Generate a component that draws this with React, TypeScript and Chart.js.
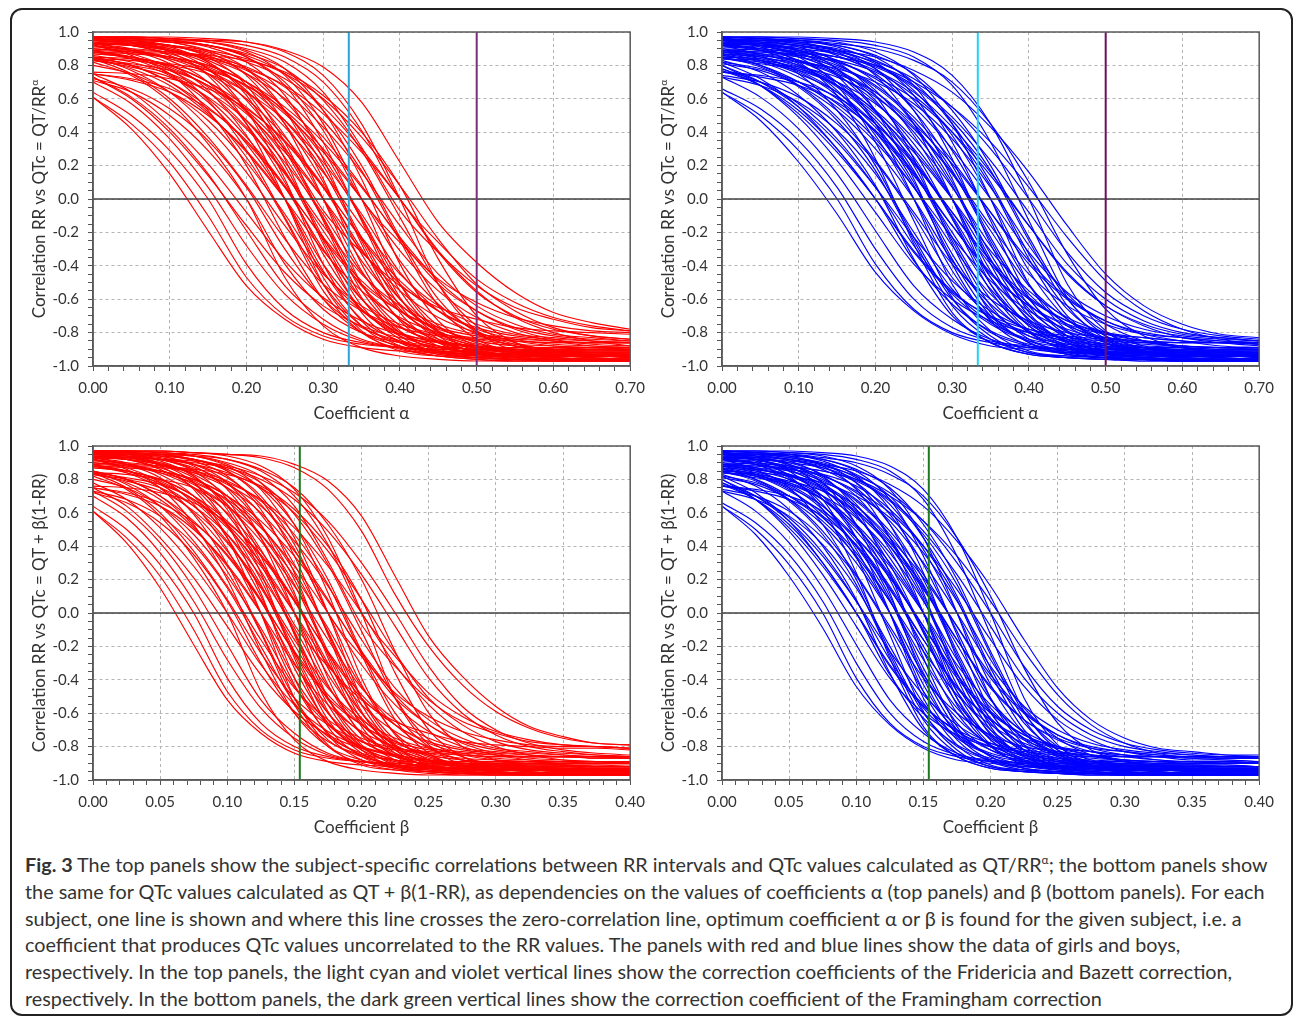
import React, { useEffect, useRef } from "react";
import { Chart, registerables } from "chart.js";

Chart.register(...registerables);

// ---------- sampled x positions of every subject line ----------
const ALPHA_X = [0, 0.05, 0.1, 0.15, 0.2, 0.25, 0.3, 0.35, 0.4, 0.45, 0.5, 0.55, 0.6, 0.65, 0.7];
const BETA_X = [0, 0.025, 0.05, 0.075, 0.1, 0.125, 0.15, 0.175, 0.2, 0.225, 0.25, 0.275, 0.3, 0.325, 0.35, 0.375, 0.4];

// ---------- correlations (x100), one row per subject ----------
const GIRLS_ALPHA = [
  [61,42,15,-19,-52,-72,-84,-89,-91,-92,-93,-93,-93,-94,-94],
  [64,50,29,0,-39,-66,-80,-86,-89,-90,-91,-91,-91,-92,-92],
  [73,61,42,15,-19,-52,-72,-84,-89,-91,-92,-93,-93,-93,-93],
  [71,64,50,29,0,-39,-66,-80,-86,-89,-90,-91,-91,-91,-91],
  [73,60,40,14,-16,-44,-64,-76,-83,-86,-88,-89,-89,-90,-90],
  [82,74,58,33,0,-47,-76,-89,-94,-96,-97,-97,-97,-97,-97],
  [92,86,75,53,20,-23,-60,-80,-88,-92,-93,-94,-94,-94,-95],
  [85,77,64,43,16,-16,-45,-64,-75,-81,-83,-85,-86,-86,-86],
  [75,71,64,50,29,0,-39,-66,-80,-86,-89,-90,-91,-91,-91],
  [96,94,88,74,45,0,-51,-79,-91,-94,-95,-96,-96,-96,-96],
  [84,78,68,51,28,0,-31,-55,-71,-80,-85,-88,-89,-89,-90],
  [94,92,86,75,53,20,-23,-60,-80,-88,-92,-93,-94,-94,-94],
  [87,85,79,67,47,17,-25,-64,-84,-92,-95,-96,-97,-97,-97],
  [83,79,73,61,42,15,-19,-52,-72,-84,-89,-91,-92,-93,-93],
  [89,85,77,64,43,16,-16,-45,-64,-75,-81,-83,-85,-86,-86],
  [97,96,94,88,74,45,0,-51,-79,-91,-94,-95,-96,-96,-96],
  [95,93,89,81,65,38,0,-43,-72,-85,-91,-93,-94,-94,-94],
  [88,84,78,68,51,28,0,-31,-55,-71,-80,-85,-88,-89,-89],
  [84,81,77,68,53,30,0,-37,-63,-79,-87,-90,-92,-92,-93],
  [88,87,85,79,67,47,17,-25,-64,-84,-92,-95,-96,-97,-97],
  [97,96,95,91,82,62,24,-27,-68,-86,-93,-95,-96,-96,-96],
  [92,89,85,77,64,43,16,-16,-45,-64,-75,-81,-83,-85,-86],
  [95,94,92,86,75,53,20,-23,-60,-80,-88,-92,-93,-94,-94],
  [85,84,81,77,68,53,30,0,-37,-63,-79,-87,-90,-92,-92],
  [97,97,96,94,88,74,45,0,-51,-79,-91,-94,-95,-96,-96],
  [90,88,84,78,68,51,28,0,-31,-55,-71,-80,-85,-88,-89],
  [96,95,94,92,86,75,53,20,-23,-60,-80,-88,-92,-93,-94],
  [89,88,87,85,79,67,47,17,-25,-64,-84,-92,-95,-96,-97],
  [93,92,89,85,77,64,43,16,-16,-45,-64,-75,-81,-83,-85],
  [97,97,96,95,92,85,70,41,0,-26,-48,-62,-71,-76,-79],
  [97,97,97,96,94,88,74,45,0,-51,-79,-91,-94,-95,-96],
  [97,97,96,95,94,89,79,58,22,-14,-38,-56,-68,-74,-78],
  [93,89,81,65,38,0,-43,-72,-85,-91,-93,-94,-94,-94,-95],
  [86,82,74,58,33,0,-47,-76,-89,-94,-96,-97,-97,-97,-97],
  [96,95,91,82,62,24,-27,-68,-86,-93,-95,-96,-96,-96,-96],
  [97,96,95,92,85,70,41,0,-26,-48,-62,-71,-76,-79,-80],
  [93,92,91,88,82,72,55,30,0,-32,-56,-70,-78,-82,-84],
  [91,90,88,84,78,68,51,28,0,-31,-55,-71,-80,-85,-88],
  [61,45,22,-10,-47,-70,-82,-87,-89,-90,-91,-91,-91,-92,-92],
  [70,57,36,7,-28,-57,-75,-85,-89,-91,-92,-93,-93,-93,-93],
  [75,64,45,21,-8,-37,-59,-73,-81,-85,-88,-89,-89,-90,-90],
  [84,75,60,37,8,-24,-51,-67,-77,-82,-84,-85,-86,-86,-86],
  [72,66,54,35,7,-30,-60,-77,-85,-88,-90,-90,-91,-91,-91],
  [92,87,78,59,29,-11,-51,-76,-86,-91,-93,-94,-94,-94,-95],
  [80,75,64,47,22,-9,-44,-67,-81,-88,-90,-92,-92,-93,-93],
  [85,80,70,52,25,-12,-55,-80,-90,-94,-96,-97,-97,-97,-97],
  [96,94,89,78,53,12,-39,-73,-88,-93,-95,-96,-96,-96,-96],
  [85,80,70,55,34,7,-23,-49,-67,-78,-84,-87,-88,-89,-90],
  [89,84,75,60,37,8,-24,-51,-67,-77,-82,-84,-85,-86,-86],
  [75,72,66,54,35,7,-30,-60,-77,-85,-88,-90,-90,-91,-91],
  [94,92,87,78,59,29,-11,-51,-76,-86,-91,-93,-94,-94,-94],
  [87,85,80,70,52,25,-12,-55,-80,-90,-94,-96,-97,-97,-97],
  [83,80,75,64,47,22,-9,-44,-67,-81,-88,-90,-92,-92,-93],
  [95,94,90,82,64,31,-7,-32,-52,-65,-72,-77,-79,-80,-81],
  [97,96,94,89,78,53,12,-39,-73,-88,-93,-95,-96,-96,-96],
  [95,93,90,83,70,45,10,-33,-66,-82,-89,-92,-93,-94,-94],
  [92,89,84,75,60,37,8,-24,-51,-67,-77,-82,-84,-85,-86],
  [88,85,80,70,55,34,7,-23,-49,-67,-78,-84,-87,-88,-89],
  [88,87,85,80,70,52,25,-12,-55,-80,-90,-94,-96,-97,-97],
  [97,96,95,92,85,68,34,-13,-59,-82,-92,-94,-95,-96,-96],
  [84,83,80,75,64,47,22,-9,-44,-67,-81,-88,-90,-92,-92],
  [95,94,92,87,78,59,29,-11,-51,-76,-86,-91,-93,-94,-94],
  [93,92,89,84,75,60,37,8,-24,-51,-67,-77,-82,-84,-85],
  [97,97,96,94,89,78,53,12,-39,-73,-88,-93,-95,-96,-96],
  [90,88,85,80,70,55,34,7,-23,-49,-67,-78,-84,-87,-88],
  [96,95,94,92,87,78,59,29,-11,-51,-76,-86,-91,-93,-94],
  [97,96,95,94,90,82,64,31,-7,-32,-52,-65,-72,-77,-79],
  [93,93,92,89,84,75,60,37,8,-24,-51,-67,-77,-82,-84],
  [90,89,88,86,83,76,62,40,8,-36,-70,-86,-93,-95,-96],
  [76,75,72,66,54,35,7,-30,-60,-77,-85,-88,-90,-90,-91],
  [96,95,92,85,68,34,-13,-59,-82,-92,-94,-95,-96,-96,-96],
  [93,90,83,70,45,10,-33,-66,-82,-89,-92,-93,-94,-94,-94],
];

const BOYS_ALPHA = [
  [64,50,29,0,-39,-66,-80,-86,-89,-90,-91,-91,-91,-92,-92],
  [73,61,42,15,-19,-52,-72,-84,-89,-91,-92,-93,-93,-93,-93],
  [78,68,51,28,0,-31,-55,-71,-80,-85,-88,-89,-89,-90,-90],
  [73,68,58,41,15,-20,-54,-74,-84,-88,-90,-90,-91,-91,-91],
  [82,72,55,30,0,-32,-56,-70,-78,-82,-84,-85,-86,-86,-86],
  [92,86,75,53,20,-23,-60,-80,-88,-92,-93,-94,-94,-94,-95],
  [85,79,67,47,17,-25,-64,-84,-92,-95,-96,-97,-97,-97,-97],
  [81,77,68,53,30,0,-37,-63,-79,-87,-90,-92,-92,-93,-93],
  [96,94,88,74,45,0,-51,-79,-91,-94,-95,-96,-96,-96,-96],
  [93,89,81,65,38,0,-43,-72,-85,-91,-93,-94,-94,-94,-95],
  [86,82,73,60,40,14,-16,-44,-64,-76,-83,-86,-88,-89,-89],
  [76,73,68,58,41,15,-20,-54,-74,-84,-88,-90,-90,-91,-91],
  [96,95,91,82,62,24,-27,-68,-86,-93,-95,-96,-96,-96,-96],
  [89,85,77,64,43,16,-16,-45,-64,-75,-81,-83,-85,-86,-86],
  [95,93,89,81,65,38,0,-43,-72,-85,-91,-93,-94,-94,-94],
  [88,86,82,74,58,33,0,-47,-76,-89,-94,-96,-97,-97,-97],
  [84,81,77,68,53,30,0,-37,-63,-79,-87,-90,-92,-92,-93],
  [97,96,94,88,74,45,0,-51,-79,-91,-94,-95,-96,-96,-96],
  [88,84,78,68,51,28,0,-31,-55,-71,-80,-85,-88,-89,-89],
  [95,94,92,86,75,53,20,-23,-60,-80,-88,-92,-93,-94,-94],
  [92,89,85,77,64,43,16,-16,-45,-64,-75,-81,-83,-85,-86],
  [97,96,95,91,82,62,24,-27,-68,-86,-93,-95,-96,-96,-96],
  [88,87,85,79,67,47,17,-25,-64,-84,-92,-95,-96,-97,-97],
  [84,83,79,73,61,42,15,-19,-52,-72,-84,-89,-91,-92,-93],
  [95,95,93,89,81,65,38,0,-43,-72,-85,-91,-93,-94,-94],
  [97,97,96,94,88,74,45,0,-51,-79,-91,-94,-95,-96,-96],
  [92,91,88,82,72,55,30,0,-32,-56,-70,-78,-82,-84,-85],
  [90,89,86,82,73,60,40,14,-16,-44,-64,-76,-83,-86,-88],
  [96,95,94,92,86,75,53,20,-23,-60,-80,-88,-92,-93,-94],
  [89,88,87,85,79,67,47,17,-25,-64,-84,-92,-95,-96,-97],
  [97,97,97,96,94,88,74,45,0,-51,-79,-91,-94,-95,-96],
  [93,92,91,88,82,72,55,30,0,-32,-56,-70,-78,-82,-84],
  [93,93,92,89,85,77,64,43,16,-16,-45,-64,-75,-81,-83],
  [94,92,86,75,53,20,-23,-60,-80,-88,-92,-93,-94,-94,-94],
  [87,85,79,67,47,17,-25,-64,-84,-92,-95,-96,-97,-97,-97],
  [93,92,89,85,77,64,43,16,-16,-45,-64,-75,-81,-83,-85],
  [77,68,53,30,0,-37,-63,-79,-87,-90,-92,-92,-93,-93,-93],
  [95,91,82,62,24,-27,-68,-86,-93,-95,-96,-96,-96,-96,-96],
  [64,47,22,-9,-44,-67,-81,-88,-90,-92,-92,-93,-93,-93,-94],
  [66,54,35,7,-30,-60,-77,-85,-88,-90,-90,-91,-91,-91,-92],
  [80,68,49,23,-8,-39,-60,-73,-80,-83,-85,-86,-86,-86,-87],
  [80,70,55,34,7,-23,-49,-67,-78,-84,-87,-88,-89,-90,-90],
  [83,76,62,40,8,-36,-70,-86,-93,-95,-96,-97,-97,-97,-97],
  [95,92,85,68,34,-13,-59,-82,-92,-94,-95,-96,-96,-96,-96],
  [74,70,61,45,22,-10,-47,-70,-82,-87,-89,-90,-91,-91,-91],
  [87,80,68,49,23,-8,-39,-60,-73,-80,-83,-85,-86,-86,-86],
  [93,90,83,70,45,10,-33,-66,-82,-89,-92,-93,-94,-94,-94],
  [82,78,70,57,36,7,-28,-57,-75,-85,-89,-91,-92,-93,-93],
  [86,83,76,62,40,8,-36,-70,-86,-93,-95,-96,-97,-97,-97],
  [96,94,89,78,53,12,-39,-73,-88,-93,-95,-96,-96,-96,-96],
  [87,83,75,64,45,21,-8,-37,-59,-73,-81,-85,-88,-89,-89],
  [90,87,80,68,49,23,-8,-39,-60,-73,-80,-83,-85,-86,-86],
  [94,92,87,78,59,29,-11,-51,-76,-86,-91,-93,-94,-94,-94],
  [76,74,70,61,45,22,-10,-47,-70,-82,-87,-89,-90,-91,-91],
  [97,96,94,89,78,53,12,-39,-73,-88,-93,-95,-96,-96,-96],
  [84,82,78,70,57,36,7,-28,-57,-75,-85,-89,-91,-92,-93],
  [88,86,83,76,62,40,8,-36,-70,-86,-93,-95,-96,-97,-97],
  [95,93,90,83,70,45,10,-33,-66,-82,-89,-92,-93,-94,-94],
  [89,87,83,75,64,45,21,-8,-37,-59,-73,-81,-85,-88,-89],
  [92,90,87,80,68,49,23,-8,-39,-60,-73,-80,-83,-85,-86],
  [97,96,95,92,85,68,34,-13,-59,-82,-92,-94,-95,-96,-96],
  [95,94,92,87,78,59,29,-11,-51,-76,-86,-91,-93,-94,-94],
  [89,88,86,83,76,62,40,8,-36,-70,-86,-93,-95,-96,-97],
  [85,84,82,78,70,57,36,7,-28,-57,-75,-85,-89,-91,-92],
  [95,95,93,90,83,70,45,10,-33,-66,-82,-89,-92,-93,-94],
  [97,97,96,95,92,85,68,34,-13,-59,-82,-92,-94,-95,-96],
  [93,92,90,87,80,68,49,23,-8,-39,-60,-73,-80,-83,-85],
  [91,90,88,85,80,70,55,34,7,-23,-49,-67,-78,-84,-87],
  [96,95,95,93,90,83,70,45,10,-33,-66,-82,-89,-92,-93],
  [85,80,70,55,34,7,-23,-49,-67,-78,-84,-87,-88,-89,-90],
  [87,85,80,70,52,25,-12,-55,-80,-90,-94,-96,-97,-97,-97],
  [78,70,57,36,7,-28,-57,-75,-85,-89,-91,-92,-93,-93,-93],
];

const GIRLS_BETA = [
  [61,42,15,-19,-52,-72,-84,-89,-91,-92,-93,-93,-93,-94,-94,-94,-94],
  [64,50,29,0,-39,-66,-80,-86,-89,-90,-91,-91,-91,-92,-92,-92,-92],
  [73,61,42,15,-19,-52,-72,-84,-89,-91,-92,-93,-93,-93,-93,-94,-94],
  [78,68,51,28,0,-31,-55,-71,-80,-85,-88,-89,-89,-90,-90,-90,-90],
  [73,68,58,41,15,-20,-54,-74,-84,-88,-90,-90,-91,-91,-91,-92,-92],
  [82,74,58,33,0,-47,-76,-89,-94,-96,-97,-97,-97,-97,-97,-97,-97],
  [92,86,75,53,20,-23,-60,-80,-88,-92,-93,-94,-94,-94,-95,-95,-95],
  [85,77,64,43,16,-16,-45,-64,-75,-81,-83,-85,-86,-86,-86,-87,-87],
  [75,71,64,50,29,0,-39,-66,-80,-86,-89,-90,-91,-91,-91,-92,-92],
  [96,94,88,74,45,0,-51,-79,-91,-94,-95,-96,-96,-96,-96,-96,-97],
  [84,78,68,51,28,0,-31,-55,-71,-80,-85,-88,-89,-89,-90,-90,-90],
  [94,92,86,75,53,20,-23,-60,-80,-88,-92,-93,-94,-94,-94,-95,-95],
  [87,85,79,67,47,17,-25,-64,-84,-92,-95,-96,-97,-97,-97,-97,-97],
  [83,79,73,61,42,15,-19,-52,-72,-84,-89,-91,-92,-93,-93,-93,-94],
  [89,85,77,64,43,16,-16,-45,-64,-75,-81,-83,-85,-86,-86,-86,-87],
  [97,96,94,88,74,45,0,-51,-79,-91,-94,-95,-96,-96,-96,-96,-97],
  [95,93,89,81,65,38,0,-43,-72,-85,-91,-93,-94,-94,-94,-95,-95],
  [88,84,78,68,51,28,0,-31,-55,-71,-80,-85,-88,-89,-89,-89,-90],
  [84,81,77,68,53,30,0,-37,-63,-79,-87,-90,-92,-92,-93,-93,-93],
  [88,87,85,79,67,47,17,-25,-64,-84,-92,-95,-96,-97,-97,-97,-97],
  [97,96,95,91,82,62,24,-27,-68,-86,-93,-95,-96,-96,-96,-96,-96],
  [92,89,85,77,64,43,16,-16,-45,-64,-75,-81,-83,-85,-86,-86,-86],
  [95,94,92,86,75,53,20,-23,-60,-80,-88,-92,-93,-94,-94,-94,-95],
  [95,95,93,89,81,65,38,0,-43,-72,-85,-91,-93,-94,-94,-94,-94],
  [97,97,96,94,88,74,45,0,-51,-79,-91,-94,-95,-96,-96,-96,-96],
  [90,88,84,78,68,51,28,0,-31,-55,-71,-80,-85,-88,-89,-89,-89],
  [96,95,94,92,86,75,53,20,-23,-60,-80,-88,-92,-93,-94,-94,-94],
  [89,88,87,85,79,67,47,17,-25,-64,-84,-92,-95,-96,-97,-97,-97],
  [93,92,89,85,77,64,43,16,-16,-45,-64,-75,-81,-83,-85,-86,-86],
  [97,97,96,95,92,85,70,41,0,-26,-48,-62,-71,-76,-79,-80,-81],
  [97,97,97,96,94,88,74,45,0,-51,-79,-91,-94,-95,-96,-96,-96],
  [91,90,88,84,78,68,51,28,0,-31,-55,-71,-80,-85,-88,-89,-89],
  [97,97,97,96,95,94,89,79,58,22,-14,-38,-56,-68,-74,-78,-79],
  [94,93,92,91,88,82,72,55,30,0,-32,-56,-70,-78,-82,-84,-85],
  [96,96,95,94,92,86,75,53,20,-23,-60,-80,-88,-92,-93,-94,-94],
  [96,95,91,82,62,24,-27,-68,-86,-93,-95,-96,-96,-96,-96,-96,-96],
  [93,89,81,65,38,0,-43,-72,-85,-91,-93,-94,-94,-94,-95,-95,-95],
  [97,96,95,92,85,70,41,0,-26,-48,-62,-71,-76,-79,-80,-80,-81],
  [61,45,22,-10,-47,-70,-82,-87,-89,-90,-91,-91,-91,-92,-92,-92,-92],
  [70,57,36,7,-28,-57,-75,-85,-89,-91,-92,-93,-93,-93,-93,-94,-94],
  [75,64,45,21,-8,-37,-59,-73,-81,-85,-88,-89,-89,-90,-90,-90,-90],
  [84,75,60,37,8,-24,-51,-67,-77,-82,-84,-85,-86,-86,-86,-87,-87],
  [72,66,54,35,7,-30,-60,-77,-85,-88,-90,-90,-91,-91,-91,-92,-92],
  [92,87,78,59,29,-11,-51,-76,-86,-91,-93,-94,-94,-94,-95,-95,-95],
  [80,75,64,47,22,-9,-44,-67,-81,-88,-90,-92,-92,-93,-93,-93,-94],
  [85,80,70,52,25,-12,-55,-80,-90,-94,-96,-97,-97,-97,-97,-97,-97],
  [96,94,89,78,53,12,-39,-73,-88,-93,-95,-96,-96,-96,-96,-96,-97],
  [85,80,70,55,34,7,-23,-49,-67,-78,-84,-87,-88,-89,-90,-90,-90],
  [89,84,75,60,37,8,-24,-51,-67,-77,-82,-84,-85,-86,-86,-86,-87],
  [75,72,66,54,35,7,-30,-60,-77,-85,-88,-90,-90,-91,-91,-91,-92],
  [94,92,87,78,59,29,-11,-51,-76,-86,-91,-93,-94,-94,-94,-95,-95],
  [87,85,80,70,52,25,-12,-55,-80,-90,-94,-96,-97,-97,-97,-97,-97],
  [83,80,75,64,47,22,-9,-44,-67,-81,-88,-90,-92,-92,-93,-93,-93],
  [95,94,90,82,64,31,-7,-32,-52,-65,-72,-77,-79,-80,-81,-81,-82],
  [97,96,94,89,78,53,12,-39,-73,-88,-93,-95,-96,-96,-96,-96,-96],
  [95,93,90,83,70,45,10,-33,-66,-82,-89,-92,-93,-94,-94,-94,-95],
  [92,89,84,75,60,37,8,-24,-51,-67,-77,-82,-84,-85,-86,-86,-86],
  [88,85,80,70,55,34,7,-23,-49,-67,-78,-84,-87,-88,-89,-90,-90],
  [88,87,85,80,70,52,25,-12,-55,-80,-90,-94,-96,-97,-97,-97,-97],
  [97,96,95,92,85,68,34,-13,-59,-82,-92,-94,-95,-96,-96,-96,-96],
  [84,83,80,75,64,47,22,-9,-44,-67,-81,-88,-90,-92,-92,-93,-93],
  [95,94,92,87,78,59,29,-11,-51,-76,-86,-91,-93,-94,-94,-94,-95],
  [93,92,89,84,75,60,37,8,-24,-51,-67,-77,-82,-84,-85,-86,-86],
  [97,97,96,94,89,78,53,12,-39,-73,-88,-93,-95,-96,-96,-96,-96],
  [90,88,85,80,70,55,34,7,-23,-49,-67,-78,-84,-87,-88,-89,-90],
  [96,95,94,92,87,78,59,29,-11,-51,-76,-86,-91,-93,-94,-94,-94],
  [97,96,95,94,90,82,64,31,-7,-32,-52,-65,-72,-77,-79,-80,-81],
  [93,93,92,89,84,75,60,37,8,-24,-51,-67,-77,-82,-84,-85,-86],
  [90,89,88,86,83,76,62,40,8,-36,-70,-86,-93,-95,-96,-97,-97],
  [76,75,72,66,54,35,7,-30,-60,-77,-85,-88,-90,-90,-91,-91,-91],
  [96,95,92,85,68,34,-13,-59,-82,-92,-94,-95,-96,-96,-96,-96,-97],
  [93,90,83,70,45,10,-33,-66,-82,-89,-92,-93,-94,-94,-94,-95,-95],
  [97,97,97,96,95,93,87,74,49,11,-20,-43,-59,-69,-75,-78,-79],
  [94,93,92,90,87,80,68,49,23,-8,-39,-60,-73,-80,-83,-85,-86],
];

const BOYS_BETA = [
  [64,50,29,0,-39,-66,-80,-86,-89,-90,-91,-91,-91,-92,-92,-92,-92],
  [73,61,42,15,-19,-52,-72,-84,-89,-91,-92,-93,-93,-93,-93,-94,-94],
  [78,68,51,28,0,-31,-55,-71,-80,-85,-88,-89,-89,-90,-90,-90,-90],
  [73,68,58,41,15,-20,-54,-74,-84,-88,-90,-90,-91,-91,-91,-92,-92],
  [82,72,55,30,0,-32,-56,-70,-78,-82,-84,-85,-86,-86,-86,-87,-87],
  [92,86,75,53,20,-23,-60,-80,-88,-92,-93,-94,-94,-94,-95,-95,-95],
  [85,79,67,47,17,-25,-64,-84,-92,-95,-96,-97,-97,-97,-97,-97,-97],
  [81,77,68,53,30,0,-37,-63,-79,-87,-90,-92,-92,-93,-93,-93,-94],
  [96,94,88,74,45,0,-51,-79,-91,-94,-95,-96,-96,-96,-96,-96,-97],
  [93,89,81,65,38,0,-43,-72,-85,-91,-93,-94,-94,-94,-95,-95,-95],
  [86,82,73,60,40,14,-16,-44,-64,-76,-83,-86,-88,-89,-89,-90,-90],
  [76,73,68,58,41,15,-20,-54,-74,-84,-88,-90,-90,-91,-91,-91,-92],
  [96,95,91,82,62,24,-27,-68,-86,-93,-95,-96,-96,-96,-96,-96,-96],
  [89,85,77,64,43,16,-16,-45,-64,-75,-81,-83,-85,-86,-86,-86,-87],
  [95,93,89,81,65,38,0,-43,-72,-85,-91,-93,-94,-94,-94,-95,-95],
  [88,86,82,74,58,33,0,-47,-76,-89,-94,-96,-97,-97,-97,-97,-97],
  [84,81,77,68,53,30,0,-37,-63,-79,-87,-90,-92,-92,-93,-93,-93],
  [97,96,94,88,74,45,0,-51,-79,-91,-94,-95,-96,-96,-96,-96,-96],
  [88,84,78,68,51,28,0,-31,-55,-71,-80,-85,-88,-89,-89,-89,-90],
  [95,94,92,86,75,53,20,-23,-60,-80,-88,-92,-93,-94,-94,-94,-95],
  [92,89,85,77,64,43,16,-16,-45,-64,-75,-81,-83,-85,-86,-86,-86],
  [97,96,95,91,82,62,24,-27,-68,-86,-93,-95,-96,-96,-96,-96,-96],
  [88,87,85,79,67,47,17,-25,-64,-84,-92,-95,-96,-97,-97,-97,-97],
  [84,83,79,73,61,42,15,-19,-52,-72,-84,-89,-91,-92,-93,-93,-93],
  [95,95,93,89,81,65,38,0,-43,-72,-85,-91,-93,-94,-94,-94,-94],
  [97,97,96,94,88,74,45,0,-51,-79,-91,-94,-95,-96,-96,-96,-96],
  [92,91,88,82,72,55,30,0,-32,-56,-70,-78,-82,-84,-85,-86,-86],
  [90,89,86,82,73,60,40,14,-16,-44,-64,-76,-83,-86,-88,-88,-89],
  [96,95,94,92,86,75,53,20,-23,-60,-80,-88,-92,-93,-94,-94,-94],
  [89,88,87,85,79,67,47,17,-25,-64,-84,-92,-95,-96,-97,-97,-97],
  [97,97,97,96,94,88,74,45,0,-51,-79,-91,-94,-95,-96,-96,-96],
  [93,92,91,88,82,72,55,30,0,-32,-56,-70,-78,-82,-84,-85,-85],
  [93,93,92,89,85,77,64,43,16,-16,-45,-64,-75,-81,-83,-85,-86],
  [94,92,86,75,53,20,-23,-60,-80,-88,-92,-93,-94,-94,-94,-95,-95],
  [86,82,74,58,33,0,-47,-76,-89,-94,-96,-97,-97,-97,-97,-97,-97],
  [89,86,82,73,60,40,14,-16,-44,-64,-76,-83,-86,-88,-89,-89,-90],
  [77,68,53,30,0,-37,-63,-79,-87,-90,-92,-92,-93,-93,-93,-93,-93],
  [95,91,82,62,24,-27,-68,-86,-93,-95,-96,-96,-96,-96,-96,-96,-96],
  [64,47,22,-9,-44,-67,-81,-88,-90,-92,-92,-93,-93,-93,-94,-94,-94],
  [66,54,35,7,-30,-60,-77,-85,-88,-90,-90,-91,-91,-91,-92,-92,-92],
  [80,68,49,23,-8,-39,-60,-73,-80,-83,-85,-86,-86,-86,-87,-87,-87],
  [80,70,55,34,7,-23,-49,-67,-78,-84,-87,-88,-89,-90,-90,-90,-90],
  [83,76,62,40,8,-36,-70,-86,-93,-95,-96,-97,-97,-97,-97,-97,-97],
  [95,92,85,68,34,-13,-59,-82,-92,-94,-95,-96,-96,-96,-96,-97,-97],
  [74,70,61,45,22,-10,-47,-70,-82,-87,-89,-90,-91,-91,-91,-92,-92],
  [87,80,68,49,23,-8,-39,-60,-73,-80,-83,-85,-86,-86,-86,-87,-87],
  [93,90,83,70,45,10,-33,-66,-82,-89,-92,-93,-94,-94,-94,-95,-95],
  [82,78,70,57,36,7,-28,-57,-75,-85,-89,-91,-92,-93,-93,-93,-93],
  [86,83,76,62,40,8,-36,-70,-86,-93,-95,-96,-97,-97,-97,-97,-97],
  [96,94,89,78,53,12,-39,-73,-88,-93,-95,-96,-96,-96,-96,-96,-97],
  [87,83,75,64,45,21,-8,-37,-59,-73,-81,-85,-88,-89,-89,-90,-90],
  [90,87,80,68,49,23,-8,-39,-60,-73,-80,-83,-85,-86,-86,-86,-87],
  [94,92,87,78,59,29,-11,-51,-76,-86,-91,-93,-94,-94,-94,-95,-95],
  [76,74,70,61,45,22,-10,-47,-70,-82,-87,-89,-90,-91,-91,-91,-92],
  [97,96,94,89,78,53,12,-39,-73,-88,-93,-95,-96,-96,-96,-96,-96],
  [84,82,78,70,57,36,7,-28,-57,-75,-85,-89,-91,-92,-93,-93,-93],
  [88,86,83,76,62,40,8,-36,-70,-86,-93,-95,-96,-97,-97,-97,-97],
  [95,93,90,83,70,45,10,-33,-66,-82,-89,-92,-93,-94,-94,-94,-95],
  [89,87,83,75,64,45,21,-8,-37,-59,-73,-81,-85,-88,-89,-89,-90],
  [92,90,87,80,68,49,23,-8,-39,-60,-73,-80,-83,-85,-86,-86,-86],
  [97,96,95,92,85,68,34,-13,-59,-82,-92,-94,-95,-96,-96,-96,-96],
  [95,94,92,87,78,59,29,-11,-51,-76,-86,-91,-93,-94,-94,-94,-95],
  [89,88,86,83,76,62,40,8,-36,-70,-86,-93,-95,-96,-97,-97,-97],
  [85,84,82,78,70,57,36,7,-28,-57,-75,-85,-89,-91,-92,-93,-93],
  [95,95,93,90,83,70,45,10,-33,-66,-82,-89,-92,-93,-94,-94,-94],
  [97,97,96,95,92,85,68,34,-13,-59,-82,-92,-94,-95,-96,-96,-96],
  [93,92,90,87,80,68,49,23,-8,-39,-60,-73,-80,-83,-85,-86,-86],
  [91,90,88,85,80,70,55,34,7,-23,-49,-67,-78,-84,-87,-88,-89],
  [96,95,95,93,90,83,70,45,10,-33,-66,-82,-89,-92,-93,-94,-94],
  [85,80,70,55,34,7,-23,-49,-67,-78,-84,-87,-88,-89,-90,-90,-90],
  [87,85,80,70,52,25,-12,-55,-80,-90,-94,-96,-97,-97,-97,-97,-97],
  [78,70,57,36,7,-28,-57,-75,-85,-89,-91,-92,-93,-93,-93,-94,-94],
];

// ---------- axis tick labels ----------
const Y_MAJOR = [-1.0, -0.8, -0.6, -0.4, -0.2, 0.0, 0.2, 0.4, 0.6, 0.8, 1.0];
const ALPHA_MAJOR = [0, 0.1, 0.2, 0.3, 0.4, 0.5, 0.6, 0.7];
const BETA_MAJOR = [0, 0.05, 0.1, 0.15, 0.2, 0.25, 0.3, 0.35, 0.4];

// ---------- correction coefficients (reference lines) ----------
const FRIDERICIA = 1 / 3;
const BAZETT = 0.5;
const FRAMINGHAM = 0.154;

const FONT = "Lato, 'Open Sans', sans-serif";

function hundredths(from: number, to: number, step: number) {
  const out: number[] = [];
  for (let i = from; i <= to; i += step) out.push(i / 100);
  return out;
}

type RefLine = { value: number; color: string };

type PanelProps = {
  left: number;
  top: number;
  xs: number[];
  curves: number[][];
  color: string;
  xMax: number;
  xMajor: number[];
  xMinor: number[];
  decimals: number;
  refLines: RefLine[];
};

const isMajor = (v: number, majors: number[]) => majors.some((m) => Math.abs(m - v) < 1e-6);

function Panel(p: PanelProps) {
  const ref = useRef<HTMLCanvasElement | null>(null);
  useEffect(() => {
    if (!ref.current) return;
    const yMinor = hundredths(-100, 100, 5);
    const datasets = p.curves.map((c) => ({
      data: c.map((v, i) => ({ x: p.xs[i], y: v / 100 })),
      borderColor: p.color,
      borderWidth: 1.15,
      pointRadius: 0,
      fill: false,
      cubicInterpolationMode: "monotone" as const,
    }));
    const overlay = {
      id: "overlay",
      afterDatasetsDraw(chart: any) {
        const { ctx, chartArea, scales } = chart;
        const xs = scales.x;
        const ys = scales.y;
        ctx.save();
        const y0 = ys.getPixelForValue(0);
        ctx.strokeStyle = "#404040";
        ctx.lineWidth = 1.5;
        ctx.beginPath();
        ctx.moveTo(chartArea.left, y0);
        ctx.lineTo(chartArea.right, y0);
        ctx.stroke();
        p.refLines.forEach((r) => {
          const px = xs.getPixelForValue(r.value);
          ctx.strokeStyle = r.color;
          ctx.lineWidth = 2;
          ctx.beginPath();
          ctx.moveTo(px, chartArea.top);
          ctx.lineTo(px, chartArea.bottom);
          ctx.stroke();
        });
        ctx.strokeStyle = "#5a5a5a";
        ctx.lineWidth = 1.5;
        ctx.strokeRect(chartArea.left, chartArea.top, chartArea.right - chartArea.left, chartArea.bottom - chartArea.top);
        ctx.restore();
      },
    };
    const chart = new Chart(ref.current, {
      type: "line",
      data: { datasets },
      options: {
        animation: false,
        responsive: false,
        devicePixelRatio: 1,
        events: [],
        layout: { padding: { top: 10, right: 20, left: 0, bottom: 0 } },
        plugins: { legend: { display: false }, tooltip: { enabled: false }, title: { display: false } },
        scales: {
          x: {
            type: "linear",
            min: 0,
            max: p.xMax,
            afterBuildTicks: (s: any) => {
              s.ticks = p.xMinor.map((v) => ({ value: v }));
            },
            afterFit: (s: any) => {
              s.height = 40;
            },
            ticks: {
              autoSkip: false,
              maxRotation: 0,
              minRotation: 0,
              padding: 8,
              color: "#333",
              font: { family: FONT, size: 15 },
              callback: (v: any) => (isMajor(Number(v), p.xMajor) ? Number(v).toFixed(p.decimals) : ""),
            },
            grid: {
              color: (c: any) => (c.tick && isMajor(c.tick.value, p.xMajor) ? "#b4b4b4" : "rgba(0,0,0,0)"),
              lineWidth: 1,
              tickColor: "#555",
              tickLength: 5,
              tickWidth: 1,
            },
            border: { display: true, color: "#5a5a5a", width: 1.5, dash: [3, 3] },
          },
          y: {
            type: "linear",
            min: -1,
            max: 1,
            afterBuildTicks: (s: any) => {
              s.ticks = yMinor.map((v) => ({ value: v }));
            },
            afterFit: (s: any) => {
              s.width = 73;
            },
            ticks: {
              autoSkip: false,
              padding: 9,
              color: "#333",
              font: { family: FONT, size: 15 },
              callback: (v: any) => (isMajor(Number(v), Y_MAJOR) ? Number(v).toFixed(1) : ""),
            },
            grid: {
              color: (c: any) => (c.tick && isMajor(c.tick.value, Y_MAJOR) ? "#b4b4b4" : "rgba(0,0,0,0)"),
              lineWidth: 1,
              tickColor: "#555",
              tickLength: 5,
              tickWidth: 1,
            },
            border: { display: true, color: "#5a5a5a", width: 1.5, dash: [3, 3] },
          },
        },
      },
      plugins: [overlay],
    } as any);
    return () => chart.destroy();
  }, []);
  return (
    <canvas
      ref={ref}
      width={633}
      height={392}
      style={{ position: "absolute", left: p.left, top: p.top, width: 633, height: 392 }}
    />
  );
}

function YTitle({ cx, cy, children }: { cx: number; cy: number; children: React.ReactNode }) {
  return (
    <div
      style={{
        position: "absolute",
        left: cx,
        top: cy,
        transform: "translate(-50%, -50%) rotate(-90deg)",
        whiteSpace: "nowrap",
        fontFamily: FONT,
        fontSize: 17,
        color: "#333",
        lineHeight: "20px",
      }}
    >
      {children}
    </div>
  );
}

function XTitle({ cx, cy, children }: { cx: number; cy: number; children: React.ReactNode }) {
  return (
    <div
      style={{
        position: "absolute",
        left: cx,
        top: cy,
        transform: "translate(-50%, -50%)",
        whiteSpace: "nowrap",
        fontFamily: FONT,
        fontSize: 17,
        color: "#333",
        lineHeight: "20px",
      }}
    >
      {children}
    </div>
  );
}

const CAPTION = [
  "the same for QTc values calculated as QT + β(1-RR), as dependencies on the values of coefficients α (top panels) and β (bottom panels). For each",
  "subject, one line is shown and where this line crosses the zero-correlation line, optimum coefficient α or β is found for the given subject, i.e. a",
  "coefficient that produces QTc values uncorrelated to the RR values. The panels with red and blue lines show the data of girls and boys,",
  "respectively. In the top panels, the light cyan and violet vertical lines show the correction coefficients of the Fridericia and Bazett correction,",
  "respectively. In the bottom panels, the dark green vertical lines show the correction coefficient of the Framingham correction",
];

export default function App() {
  const alphaMinor = hundredths(0, 70, 2);
  const betaMinor = hundredths(0, 40, 1);
  const sup = <sup style={{ fontSize: "0.6em", verticalAlign: "0.7em", lineHeight: 0 }}>α</sup>;
  return (
    <div
      style={{
        position: "absolute",
        left: 0,
        top: 0,
        width: 1293,
        height: 1017,
        overflow: "hidden",
        background: "#fff",
      }}
    >
      <div
        style={{
          position: "absolute",
          left: 10,
          top: 8,
          width: 1283,
          height: 1008,
          border: "2px solid #222",
          borderRadius: 12,
          boxSizing: "border-box",
        }}
      />
      <Panel left={20} top={14} xs={ALPHA_X} curves={GIRLS_ALPHA} color="#ff0000" xMax={0.7} xMajor={ALPHA_MAJOR} xMinor={alphaMinor} decimals={2}
        refLines={[{ value: FRIDERICIA, color: "#2aa3d6" }, { value: BAZETT, color: "#7a2d7a" }]} />
      <Panel left={649} top={14} xs={ALPHA_X} curves={BOYS_ALPHA} color="#0000ff" xMax={0.7} xMajor={ALPHA_MAJOR} xMinor={alphaMinor} decimals={2}
        refLines={[{ value: FRIDERICIA, color: "#22d3f5" }, { value: BAZETT, color: "#6c1060" }]} />
      <Panel left={20} top={428} xs={BETA_X} curves={GIRLS_BETA} color="#ff0000" xMax={0.4} xMajor={BETA_MAJOR} xMinor={betaMinor} decimals={2}
        refLines={[{ value: FRAMINGHAM, color: "#1d7a1d" }]} />
      <Panel left={649} top={428} xs={BETA_X} curves={BOYS_BETA} color="#0000ff" xMax={0.4} xMajor={BETA_MAJOR} xMinor={betaMinor} decimals={2}
        refLines={[{ value: FRAMINGHAM, color: "#1d7a1d" }]} />

      <YTitle cx={39} cy={199}>Correlation RR vs QTc = QT/RR{sup}</YTitle>
      <YTitle cx={668} cy={199}>Correlation RR vs QTc = QT/RR{sup}</YTitle>
      <YTitle cx={39} cy={613}>Correlation RR vs QTc = QT + β(1-RR)</YTitle>
      <YTitle cx={668} cy={613}>Correlation RR vs QTc = QT + β(1-RR)</YTitle>

      <XTitle cx={361.5} cy={413}>Coefficient α</XTitle>
      <XTitle cx={990.5} cy={413}>Coefficient α</XTitle>
      <XTitle cx={361.5} cy={827}>Coefficient β</XTitle>
      <XTitle cx={990.5} cy={827}>Coefficient β</XTitle>

      <div
        style={{
          position: "absolute",
          left: 25,
          top: 851,
          fontFamily: FONT,
          fontSize: 19.8,
          lineHeight: "26.8px",
          color: "#333",
          whiteSpace: "nowrap",
        }}
      >
        <div>
          <b>Fig. 3</b> The top panels show the subject-specific correlations between RR intervals and QTc values calculated as QT/RR{sup}; the bottom panels show
        </div>
        {CAPTION.map((l, i) => (
          <div key={i}>{l}</div>
        ))}
      </div>
    </div>
  );
}
